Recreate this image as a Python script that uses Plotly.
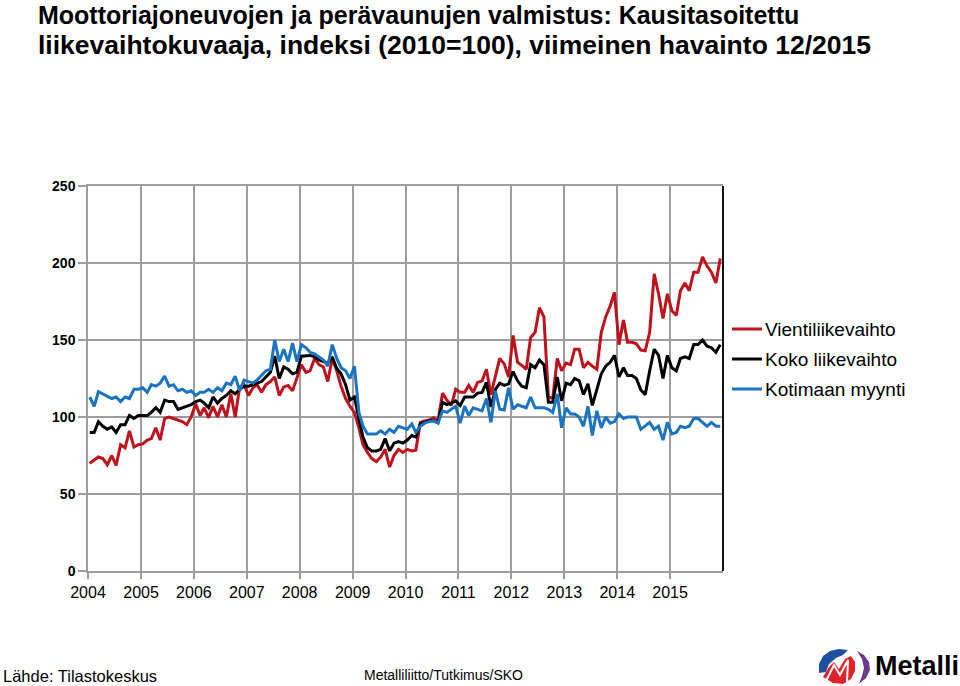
import pandas as pd
import plotly.graph_objects as go

# ---------------- data (monthly, 2004-01 ... 2015-12) ----------------
years = list(range(2004, 2016))
tick_labels = [str(y) for y in years]

vienti = [
    70, 72, 74, 73, 69, 75, 68.5, 82, 80, 91, 80.5, 82,            # 2004
    82.5, 85, 86, 93, 85, 99, 100, 99, 98, 97, 95, 100,            # 2005
    108.5, 101, 106, 99.5, 107, 100, 108, 100, 115, 100, 119.5, 121,  # 2006
    114, 119, 121, 116, 121, 123, 126, 114, 119.5, 120.5, 117, 125,   # 2007
    134, 129, 130, 138, 134, 132.5, 123, 138, 130, 120, 112, 107,     # 2008
    103, 93, 82, 77, 73, 71, 74, 79, 67.5, 75, 79, 77,                # 2009
    79, 78, 78.5, 96.5, 97.5, 98, 99.5, 97.5, 115.5, 111, 107.5, 118, # 2010
    116, 116, 120.5, 116, 122.5, 123.5, 131, 114.5, 126, 138, 134.5, 126,  # 2011
    153, 135.5, 133.5, 131, 151.5, 155, 171, 165, 113, 112, 138, 130,      # 2012
    135, 134, 144, 144, 132, 135.5, 133, 131, 155, 165, 172, 181,          # 2013
    147, 163, 148.5, 148.5, 147.5, 143.5, 143, 155, 193, 180, 164, 180,    # 2014
    169, 166, 182, 187, 182, 194, 194, 204, 198, 194, 187, 203,            # 2015
]

koko = [
    90, 90, 97, 94, 92, 93.5, 90, 95, 95, 101, 99, 101,
    101, 101, 103, 106, 103, 111, 110, 110, 105, 106, 107, 108,
    110, 111, 109, 106, 113, 109, 112, 114, 117, 115, 118, 120,
    120, 121, 122, 123, 126, 129, 139.5, 125, 132.5, 131, 128, 129,
    139.5, 140, 140, 139, 137, 136, 135, 139, 131.5, 128, 121, 111,
    113, 99, 87, 80, 78, 78, 79, 86, 78, 83, 84, 83,
    85, 88, 87, 95.5, 96.5, 97.5, 97.5, 96.5, 109.5, 108, 109, 110.5,
    107.5, 113, 113, 113, 115.5, 116, 122.5, 106.5, 118, 122, 120.5, 121.5,
    129.5, 123.5, 120, 119, 134, 132, 137, 134, 109.5, 109.5, 126, 110.5,
    122, 121, 125, 123.5, 114.5, 121.5, 107.5, 118, 128, 133, 135.5, 140,
    126, 132, 127, 127, 125, 117.5, 114.5, 130, 144, 140, 125, 140,
    132, 130, 138, 139, 138, 147, 147, 150, 146, 145, 142, 147,
]

kotimaa = [
    113, 107, 116.5, 115, 113, 112, 113, 110, 113, 112, 118, 118,
    119, 116, 121, 120, 122, 126.5, 120, 121, 117, 118, 116, 117,
    114, 116, 116, 118, 116, 119, 117, 122, 121, 126.5, 117, 124,
    123, 122, 124, 127, 130, 131, 150, 136, 144, 136, 148, 136,
    147, 145, 142, 141, 139, 137, 133, 147, 138, 132, 130, 125,
    133, 103, 94, 89, 89, 89, 91, 89, 92, 90, 94, 93,
    92, 95.5, 90, 94, 96, 97, 97.5, 96, 104, 103, 105, 107,
    96, 107, 101, 106, 105, 104, 112, 96.5, 117, 105, 104.5, 119,
    105, 108, 107, 106, 113, 106, 106, 106, 105, 103, 115, 93,
    106, 102, 102, 100, 94, 107, 88, 104, 93, 100, 96, 97,
    102, 99, 100, 100, 100, 92, 94, 96.5, 92, 94, 85, 96.5,
    89, 90, 94, 93, 94, 99, 99, 96.5, 94, 96.5, 94, 94,
]

series_names = ["Vientiliikevaihto", "Koko liikevaihto", "Kotimaan myynti"]
series_colors = ["#C0121C", "#000000", "#1B74C2"]

dates = pd.date_range("2004-01-01", periods=len(vienti), freq="MS") + pd.Timedelta(days=12)

# ---------------- layout geometry (pixels) ----------------
W, H = 960, 686
PL, PR, PT, PB = 88, 723, 186, 571


def fx(x):
    return (x - PL) / (PR - PL)


def fy(y):
    return (PB - y) / (PB - PT)


def poly(points):
    return "M " + " L ".join(f"{fx(x):.5f},{fy(y):.5f}" for x, y in points) + " Z"


fig = go.Figure()
for name, vals, col in zip(series_names, [vienti, koko, kotimaa], series_colors):
    fig.add_trace(go.Scatter(x=dates, y=vals, mode="lines", name=name,
                             line=dict(color=col, width=3), showlegend=False))

grid_col = "#9c9c9c"
FONT = "Liberation Sans, Arial, sans-serif"

fig.update_layout(
    width=W, height=H,
    margin=dict(l=PL, r=W - PR, t=PT, b=H - PB, pad=0),
    paper_bgcolor="white", plot_bgcolor="white",
    font=dict(family=FONT, color="black"),
    xaxis=dict(
        type="date",
        range=["2004-01-01", "2016-01-01"],
        tickmode="array",
        tickvals=[f"{y}-01-01" for y in years],
        ticktext=tick_labels,
        showgrid=True, gridcolor=grid_col, gridwidth=1.5,
        showline=True, linecolor=grid_col, linewidth=1.5, mirror=True,
        ticks="outside", ticklen=6, tickcolor=grid_col, tickwidth=1.5,
        tickfont=dict(size=16, family=FONT, color="black"),
        zeroline=False,
    ),
    yaxis=dict(
        range=[0, 250], tickmode="linear", tick0=0, dtick=50,
        showgrid=True, gridcolor=grid_col, gridwidth=1.5,
        showline=True, linecolor=grid_col, linewidth=1.5,
        ticks="outside", ticklen=8, tickcolor=grid_col, tickwidth=1.5,
        tickfont=dict(size=14, family=FONT, color="black", weight="bold"),
        zeroline=False,
    ),
)

shapes = []
shapes.append(dict(type="line", xref="paper", yref="paper", x0=1, x1=1, y0=0, y1=1,
                   line=dict(color="#111111", width=2)))

annotations = []
annotations.append(dict(xref="paper", yref="paper", x=fx(36), y=fy(15), xanchor="left", yanchor="middle",
                        text="Moottoriajoneuvojen ja perävaunujen valmistus: Kausitasoitettu",
                        showarrow=False, font=dict(size=25, family=FONT, color="black", weight="bold")))
annotations.append(dict(xref="paper", yref="paper", x=fx(36), y=fy(45), xanchor="left", yanchor="middle",
                        text="liikevaihtokuvaaja, indeksi (2010=100), viimeinen havainto 12/2015",
                        showarrow=False, font=dict(size=26.5, family=FONT, color="black", weight="bold")))

for k, (name, col) in enumerate(zip(series_names, series_colors)):
    yy = 329 + 30 * k
    shapes.append(dict(type="line", xref="paper", yref="paper",
                       x0=fx(732), x1=fx(762), y0=fy(yy), y1=fy(yy),
                       line=dict(color=col, width=3)))
    annotations.append(dict(xref="paper", yref="paper", x=fx(763), y=fy(yy), xanchor="left",
                            yanchor="middle", text=name, showarrow=False,
                            font=dict(size=19, family=FONT, color="black")))

annotations.append(dict(xref="paper", yref="paper", x=fx(1), y=fy(676), xanchor="left", yanchor="middle",
                        text="Lähde: Tilastokeskus", showarrow=False,
                        font=dict(size=16.5, family=FONT, color="black")))
annotations.append(dict(xref="paper", yref="paper", x=fx(362), y=fy(675), xanchor="left", yanchor="middle",
                        text="Metalliliitto/Tutkimus/SKO", showarrow=False,
                        font=dict(size=14, family=FONT, color="black")))

# logo
shapes.append(dict(type="path", xref="paper", yref="paper", line=dict(width=0), fillcolor="#1F4F9E",
                   path=poly([(819, 673), (819, 664), (823, 656), (830, 651), (839, 649), (848, 650),
                              (843, 655), (836, 658), (829, 664), (826, 672)])))
shapes.append(dict(type="path", xref="paper", yref="paper", line=dict(width=0), fillcolor="#E0222B",
                   path=poly([(823, 677), (829, 667), (834, 662), (839, 669), (845, 659), (851, 656),
                              (855, 662), (855, 671), (851, 679), (843, 684), (833, 683)])))
shapes.append(dict(type="path", xref="paper", yref="paper", line=dict(color="white", width=2),
                   fillcolor="rgba(0,0,0,0)",
                   path="M " + " L ".join(f"{fx(x):.5f},{fy(y):.5f}" for x, y in
                                           [(826, 681), (834, 665), (840, 675), (848, 660), (847, 682)])))
shapes.append(dict(type="path", xref="paper", yref="paper", line=dict(width=0), fillcolor="#6A3A8E",
                   path=poly([(857, 651), (864, 655), (869, 662), (870, 670), (866, 678), (859, 684),
                              (862, 676), (864, 668), (862, 659)])))
annotations.append(dict(xref="paper", yref="paper", x=fx(873), y=fy(666), xanchor="left", yanchor="middle",
                        text="Metalli", showarrow=False,
                        font=dict(size=27, family=FONT, color="black", weight="bold")))

fig.update_layout(shapes=shapes, annotations=annotations)

fig.write_html("out.html", config={"displayModeBar": False})

# remove the browser's default page margin so the figure sits at the window's top-left corner
with open("out.html", "r", encoding="utf-8") as f:
    html = f.read()
html = html.replace("<head>", "<head><style>html,body{margin:0;padding:0;overflow:hidden;}</style>", 1)
with open("out.html", "w", encoding="utf-8") as f:
    f.write(html)
